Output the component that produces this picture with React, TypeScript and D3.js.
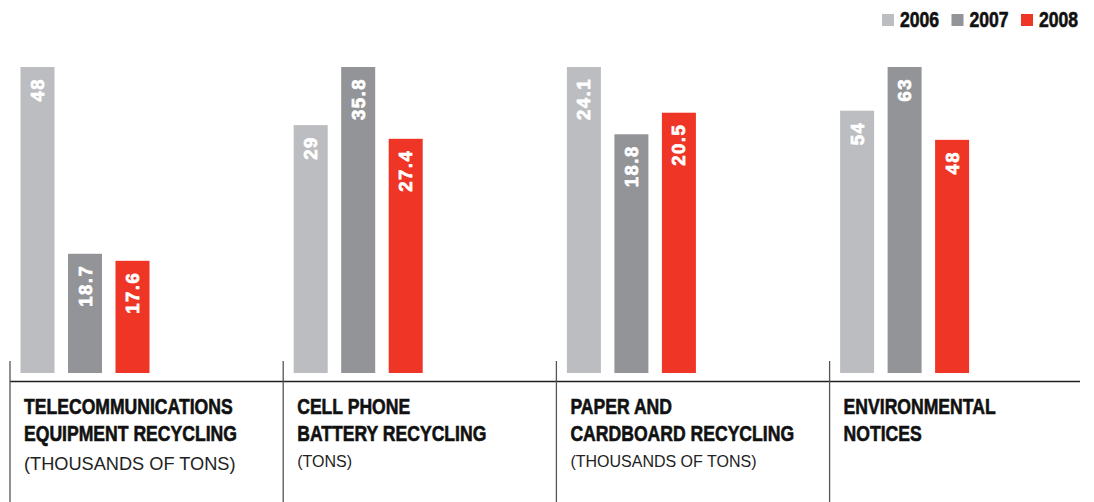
import React from "react";
import * as d3 from "d3";

const years = ["2006", "2007", "2008"];
const titleLine1 = ["TELECOMMUNICATIONS", "CELL PHONE", "PAPER AND", "ENVIRONMENTAL"];
const titleLine2 = ["EQUIPMENT RECYCLING", "BATTERY RECYCLING", "CARDBOARD RECYCLING", "NOTICES"];
const subtitles = ["(THOUSANDS OF TONS)", "(TONS)", "(THOUSANDS OF TONS)", ""];
const values2006 = [48, 29, 24.1, 54];
const values2007 = [18.7, 35.8, 18.8, 63];
const values2008 = [17.6, 27.4, 20.5, 48];
const valueLabels2006 = ["48", "29", "24.1", "54"];
const valueLabels2007 = ["18.7", "35.8", "18.8", "63"];
const valueLabels2008 = ["17.6", "27.4", "20.5", "48"];

const W = 1094;
const H = 502;
const colors = ["#bcbdc1", "#939498", "#ee3526"];
const sans = "'Liberation Sans', Arial, Helvetica, sans-serif";
const NARROW = 0.8;

function NarrowText(props: { x: number; y: number; size: number; children: React.ReactNode }) {
  return (
    <text
      transform={`translate(${props.x},${props.y}) scale(${NARROW},1.03)`}
      fontFamily={sans}
      fontWeight="bold"
      fontSize={props.size}
      fill="#111"
      stroke="#111"
      strokeWidth={0.6}
    >
      {props.children}
    </text>
  );
}

export default function App() {
  const panelIdx = d3.range(titleLine1.length);
  const panelX = d3.scaleLinear().domain([0, 1]).range([10, 283.2]);
  const baseline = 373;
  const topY = 67;
  const series = [values2006, values2007, values2008];
  const labels = [valueLabels2006, valueLabels2007, valueLabels2008];

  const legendX = d3.scaleLinear().domain([0, 1]).range([882, 951.5]);

  return (
    <svg
      width={W}
      height={H}
      style={{ position: "absolute", left: 0, top: 0, background: "#fff" }}
    >
      {/* legend */}
      {years.map((yr, i) => (
        <g key={yr}>
          <rect x={legendX(i)} y={14} width={12} height={12} fill={colors[i]} />
          <NarrowText x={legendX(i) + 18} y={27} size={22}>
            {yr}
          </NarrowText>
        </g>
      ))}

      {/* horizontal rule */}
      <line x1={10} x2={1080} y1={381.5} y2={381.5} stroke="#231f20" strokeWidth={1.3} />

      {panelIdx.map((p) => {
        const left = panelX(p);
        const maxV = d3.max(series.map((s) => s[p])) as number;
        const y = d3.scaleLinear().domain([0, maxV]).range([baseline, topY]);
        const x = d3
          .scaleBand<string>()
          .domain(years)
          .range([left + 10.5, left + 10.5 + 129])
          .paddingInner(0.284)
          .paddingOuter(0);
        return (
          <g key={p}>
            <line
              x1={left}
              x2={left}
              y1={361}
              y2={H}
              stroke="#555"
              strokeWidth={1.3}
            />
            {years.map((yr, j) => {
              const v = series[j][p];
              const bx = x(yr) as number;
              const bw = x.bandwidth();
              const by = y(v);
              const cx = bx + bw / 2;
              const ty = by + 11;
              return (
                <g key={yr}>
                  <rect x={bx} y={by} width={bw} height={baseline - by} fill={colors[j]} />
                  <text
                    transform={`translate(${cx},${ty}) rotate(-90)`}
                    textAnchor="end"
                    dominantBaseline="central"
                    fontFamily={sans}
                    fontWeight="bold"
                    fontSize={18.5}
                    letterSpacing={1.5}
                    fill="#fff"
                    stroke="#fff"
                    strokeWidth={0.7}
                  >
                    {labels[j][p]}
                  </text>
                </g>
              );
            })}
            <NarrowText x={left + 14} y={414} size={22}>
              {titleLine1[p]}
            </NarrowText>
            <NarrowText x={left + 14} y={441} size={22}>
              {titleLine2[p]}
            </NarrowText>
            {subtitles[p] && (
              <text
                x={left + 14}
                y={p === 0 ? 469.5 : 467}
                fontFamily={sans}
                fontSize={p === 0 ? 18.2 : 16}
                fill="#222"
              >
                {subtitles[p]}
              </text>
            )}
          </g>
        );
      })}
    </svg>
  );
}
